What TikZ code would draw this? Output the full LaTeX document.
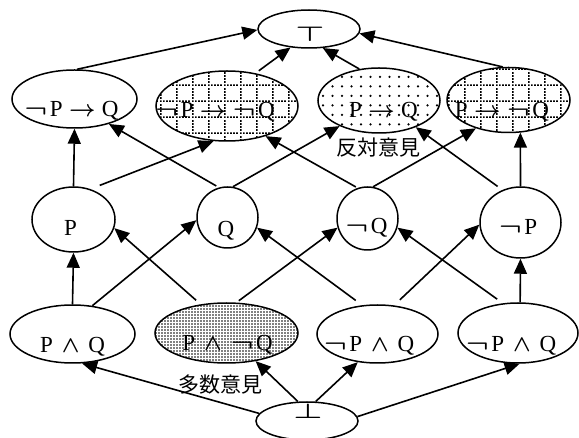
\RequirePackage{fix-cm}
\documentclass[tikz,border=0pt]{standalone}
\usepackage{fontspec}
\usepackage{graphicx}
\setmainfont{Liberation Serif}
\newfontfamily\cjk{Noto Sans CJK JP}
\usetikzlibrary{shapes.geometric,arrows.meta,patterns}
\pgfdeclarepatternformonly{densedots}{\pgfqpoint{-1pt}{-1pt}}{\pgfqpoint{1pt}{1pt}}{\pgfqpoint{3pt}{3pt}}{\pgfpathcircle{\pgfpointorigin}{0.95pt}\pgfusepath{fill}}
\pgfdeclarepatternformonly{sparsedots}{\pgfqpoint{-1.5pt}{-1.5pt}}{\pgfqpoint{1.5pt}{1.5pt}}{\pgfqpoint{9.5pt}{9.5pt}}{\pgfpathcircle{\pgfpointorigin}{1.25pt}\pgfusepath{fill}}
\pgfdeclarepatternformonly{dotgrid}{\pgfqpoint{0pt}{0pt}}{\pgfqpoint{16pt}{16pt}}{\pgfqpoint{16pt}{16pt}}{%
  \pgfpathrectangle{\pgfqpoint{0pt}{0pt}}{\pgfqpoint{1.8pt}{1.8pt}}%
  \pgfpathrectangle{\pgfqpoint{3.2pt}{0pt}}{\pgfqpoint{1.8pt}{1.8pt}}%
  \pgfpathrectangle{\pgfqpoint{6.4pt}{0pt}}{\pgfqpoint{1.8pt}{1.8pt}}%
  \pgfpathrectangle{\pgfqpoint{9.6pt}{0pt}}{\pgfqpoint{1.8pt}{1.8pt}}%
  \pgfpathrectangle{\pgfqpoint{12.8pt}{0pt}}{\pgfqpoint{1.8pt}{1.8pt}}%
  \pgfpathrectangle{\pgfqpoint{0pt}{3.2pt}}{\pgfqpoint{1.8pt}{1.8pt}}%
  \pgfpathrectangle{\pgfqpoint{0pt}{6.4pt}}{\pgfqpoint{1.8pt}{1.8pt}}%
  \pgfpathrectangle{\pgfqpoint{0pt}{9.6pt}}{\pgfqpoint{1.8pt}{1.8pt}}%
  \pgfpathrectangle{\pgfqpoint{0pt}{12.8pt}}{\pgfqpoint{1.8pt}{1.8pt}}%
  \pgfusepath{fill}}
\newcommand{\myneg}{\mathord{\scalebox{1.3}[1]{\boldmath$\neg$}}\mkern2mu}
\newcommand{\myto}{\mathrel{\mbox{\boldmath$\to$}}}
\newcommand{\pP}{\mathrm{P}}
\newcommand{\qQ}{\mathrm{Q}}
\newcommand{\myand}{\mathbin{\mbox{\boldmath$\wedge$}}\,}
\tikzset{
  el/.style={ellipse, draw, line width=1.5pt, inner sep=0pt},
  gridel/.style={el, pattern=dotgrid},
  sparseel/.style={el, pattern=sparsedots},
  denseel/.style={el, pattern=densedots},
  lab/.style={inner sep=0pt, text height=15pt, text depth=0pt, font=\fontsize{23}{26}\selectfont},
  jlab/.style={inner sep=0pt, font=\fontsize{21}{24}\selectfont\cjk},
  arr/.style={line width=1.6pt, -{Triangle[length=15pt,width=13pt]}},
}
\begin{document}
\begin{tikzpicture}[x=1pt,y=-1pt]
\fill[white] (0,0) rectangle (579,438);
\useasboundingbox (0,0) rectangle (579,438);
% top and bottom
\node[el, minimum width=102pt, minimum height=38pt] (top) at (309,29) {};
\node[el, minimum width=102pt, minimum height=38pt] (bot) at (307,421) {};
% row 2
\node[el, minimum width=125pt, minimum height=58pt] (npq) at (74.5,99) {};
\node[gridel, minimum width=142pt, minimum height=70pt] (npnq) at (227,106) {};
\node[sparseel, minimum width=122pt, minimum height=65pt] (pq) at (379,100.5) {};
\node[gridel, minimum width=123pt, minimum height=65pt] (pnq) at (508.5,100) {};
% row 3
\node[el, minimum width=83pt, minimum height=65pt] (P) at (73.5,219.5) {};
\node[el, minimum width=61pt, minimum height=61pt] (Q) at (227.5,217.5) {};
\node[el, minimum width=61pt, minimum height=63pt] (nQ) at (367.5,218.5) {};
\node[el, minimum width=81pt, minimum height=71pt] (nP) at (520.5,222.5) {};
% row 4
\node[el, minimum width=125pt, minimum height=58pt] (paq) at (72.5,334) {};
\node[denseel, minimum width=143pt, minimum height=60pt] (panq) at (226.5,333) {};
\node[el, minimum width=121pt, minimum height=58pt] (npaq) at (377.5,334) {};
\node[el, minimum width=120pt, minimum height=60pt] (npanq) at (518,333) {};
% labels
\node[lab, text height=14pt] (ltop) at (310,35) {\scalebox{1.4}[0.9]{\boldmath$\top$}};
\node[lab, text height=14pt] (lbot) at (308,412) {\scalebox{1.4}[0.9]{\boldmath$\bot$}};
\node[lab] (lnpq) at (71.5,109) {$\myneg\pP\myto\qQ$};
\node[lab] (lnpnq) at (215,110) {$\myneg\pP\myto\myneg\qQ$};
\node[lab] (lpq) at (383.5,110) {$\pP\myto\qQ$};
\node[lab] (lpnq) at (502,110) {$\pP\myto\myneg\qQ$};
\node[lab] (lP) at (70.5,228) {$\pP$};
\node[lab] (lQ) at (226,229.5) {$\qQ$};
\node[lab] (lnQ) at (366.5,226.5) {$\myneg\qQ$};
\node[lab] (lnP) at (518,227.5) {$\myneg\pP$};
\node[lab] (lpaq) at (72.5,345) {$\pP\,\myand\qQ$};
\node[lab] (lpanq) at (227.5,343.5) {$\pP\,\myand\myneg\qQ$};
\node[lab] (lnpaq) at (369,344) {$\myneg\pP\,\myand\qQ$};
\node[lab] (lnpanq) at (511,344) {$\myneg\pP\,\myand\qQ$};
\node[jlab] (hantai) at (378,148) {反対意見};
\node[jlab] (tasuu) at (220,385) {多数意見};
% edges from bottom
\draw[arr] (bot.171) -- (paq.288);
\draw[arr] (bot.115) -- (panq.-44);
\draw[arr] (bot.66) -- (npaq.235);
\draw[arr] (bot.5) -- (npanq.-87);
% row 4 -> row 3
\draw[arr] (paq.north) -- (P.south);
\draw[arr] (paq.55) -- (Q.185);
\draw[arr, shorten <=6pt] (panq.132) -- (P.-12);
\draw[arr, shorten <=3pt] (panq.72) -- (nQ.197);
\draw[arr, shorten <=8pt] (npaq.118) -- (Q.-19);
\draw[arr, shorten <=8pt] (npaq.60) -- (nP.183);
\draw[arr, shorten <=7pt] (npanq.117) -- (nQ.-17);
\draw[arr] (npanq.86) -- (nP.south);
% row 3 -> row 2
\draw[arr] (P.north) -- (npq.south);
\draw[arr, shorten <=10pt] (P.61) -- (npnq.249);
\draw[arr, shorten <=3pt] (Q.106) -- (npq.-36);
\draw[arr] (Q.80) -- (pq.213);
\draw[arr, shorten <=2pt] (nQ.108) -- (npnq.-38);
\draw[arr] (nQ.80) -- (pnq.221);
\draw[arr, shorten <=6pt] (nP.119) -- (pq.-36);
\draw[arr] (nP.north) -- (pnq.-70);
% row 2 -> top
\draw[arr] (npq.85) -- (top.181);
\draw[arr, shorten <=4pt] (npnq.49) -- (top.225);
\draw[arr] (pq.122) -- (top.-54);
\draw[arr] (pnq.100) -- (top.-5);
\end{tikzpicture}
\end{document}
